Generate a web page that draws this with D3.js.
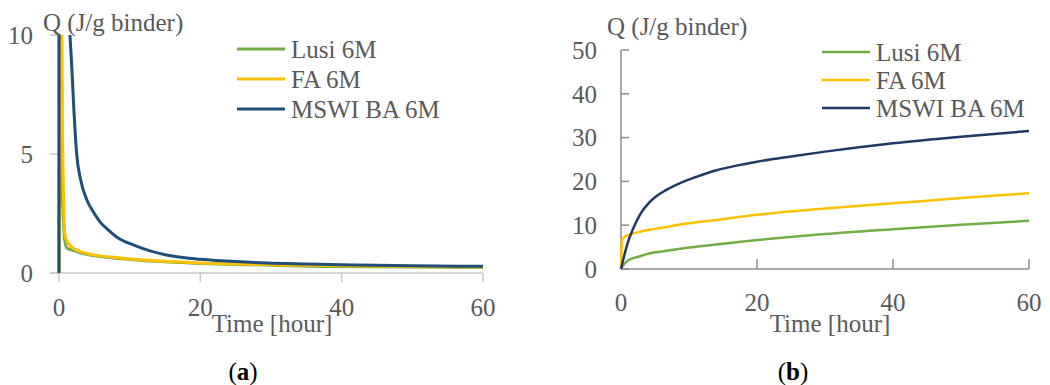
<!DOCTYPE html>
<html>
<head>
<meta charset="utf-8">
<script src="https://cdn.jsdelivr.net/npm/d3@7"></script>
<style>
  body { margin: 0; background: #fff; }
  svg text { font-family: "Liberation Serif", "DejaVu Serif"; fill: #595959; }
</style>
</head>
<body>
<script>

var width = 1050,
    height = 385;

var seriesNames = ["Lusi 6M", "FA 6M", "MSWI BA 6M"];
var colorsA = ["#70ad47", "#ffc000", "#1f4e79"];
var colorsB = ["#70ad47", "#ffc000", "#203864"];

var xTicks = [0, 20, 40, 60];
var yTicksA = [0, 5, 10];
var yTicksB = [0, 10, 20, 30, 40, 50];

// (a) heat flow, [time h, Q]
var lusiA = [[0, 0], [0.02, 14], [0.4, 4], [0.6, 2.3], [0.8, 1.4], [1.1, 1.05], [2, 0.95],
  [3, 0.85], [4, 0.78], [5.8, 0.69], [8, 0.62], [10.5, 0.56], [15, 0.47], [20, 0.4],
  [30, 0.33], [38, 0.27], [50, 0.25], [60, 0.23]];
var faA = [[0, 0], [0.3, 14], [0.5, 6], [0.7, 2.5], [0.85, 1.6], [1.2, 1.3], [2, 1.05],
  [3, 0.9], [4, 0.82], [5.8, 0.72], [8, 0.65], [10.5, 0.58], [15, 0.49], [20, 0.42],
  [30, 0.35], [40, 0.3], [50, 0.27], [60, 0.25]];
var mswiA = [[0, 0], [0.02, 16], [1.2, 12], [1.55, 10], [1.8, 8.7], [2.1, 6.9], [2.5, 5.0],
  [3, 4.0], [3.9, 3.1], [5, 2.5], [5.8, 2.15], [7, 1.8], [8.2, 1.5], [10.5, 1.18],
  [13, 0.92], [15.2, 0.76], [17.5, 0.65], [20, 0.58], [25, 0.48], [29.4, 0.42],
  [35, 0.38], [40, 0.35], [50, 0.3], [60, 0.28]];

// (b) cumulative heat, [time h, Q]
var lusiB = [[0, 0], [0.5, 1.2], [1, 1.9], [1.5, 2.3], [2.5, 2.8], [4, 3.5], [6, 4.0],
  [9, 4.7], [14, 5.6], [20, 6.6], [30, 8.0], [40, 9.1], [50, 10.1], [60, 11.0]];
var faB = [[0, 0], [0.1, 5], [0.2, 6.7], [0.5, 7.3], [1, 7.7], [2, 8.2], [4, 8.9],
  [6, 9.4], [9, 10.2], [14, 11.2], [20, 12.4], [30, 13.8], [40, 15.0], [50, 16.2],
  [60, 17.3]];
var mswiB = [[0, 0], [0.5, 3.2], [1, 6.0], [1.7, 8.9], [2.9, 12.7], [4.1, 15.1], [5, 16.4],
  [6.6, 18.0], [9.1, 19.9], [11, 21.0], [13.9, 22.5], [17, 23.6], [20, 24.5], [25, 25.7],
  [30, 26.8], [35, 27.8], [40, 28.7], [50, 30.2], [60, 31.5]];

var svg = d3.select("body").append("svg")
    .attr("width", width)
    .attr("height", height);

// ---------- chart a ----------
var xA = d3.scaleLinear().domain([0, 60]).range([59, 483]);
var yA = d3.scaleLinear().domain([0, 10]).range([273, 35]);

var gA = svg.append("g");

gA.append("clipPath").attr("id", "clipA")
  .append("rect")
    .attr("x", xA(0) - 3).attr("y", yA(10))
    .attr("width", xA(60) - xA(0) + 6).attr("height", yA(0) - yA(10) + 3);

// axes
gA.append("line")
    .attr("x1", xA(0) - 9).attr("x2", xA(60))
    .attr("y1", yA(0)).attr("y2", yA(0))
    .attr("stroke", "#c8c8c8").attr("stroke-width", 1.5);
gA.append("line")
    .attr("x1", xA(0)).attr("x2", xA(0))
    .attr("y1", yA(0)).attr("y2", yA(10))
    .attr("stroke", "#c8c8c8").attr("stroke-width", 1.5);

gA.selectAll(".xtick").data(xTicks).enter().append("line")
    .attr("x1", function(d) { return xA(d); }).attr("x2", function(d) { return xA(d); })
    .attr("y1", yA(0)).attr("y2", yA(0) + 9)
    .attr("stroke", "#c8c8c8").attr("stroke-width", 1.5);
gA.selectAll(".ytick").data(yTicksA).enter().append("line")
    .attr("x1", xA(0) - 9).attr("x2", xA(0))
    .attr("y1", function(d) { return yA(d); }).attr("y2", function(d) { return yA(d); })
    .attr("stroke", "#c8c8c8").attr("stroke-width", 1.5);

gA.selectAll(".xlab").data(xTicks).enter().append("text")
    .attr("x", function(d) { return xA(d); })
    .attr("y", 307)
    .attr("dy", "0.35em")
    .attr("text-anchor", "middle")
    .style("font-size", "25px")
    .text(function(d) { return d; });
gA.selectAll(".ylab").data(yTicksA).enter().append("text")
    .attr("x", 33)
    .attr("y", function(d) { return yA(d); })
    .attr("dy", "0.35em")
    .attr("text-anchor", "end")
    .style("font-size", "25px")
    .text(function(d) { return d; });

// ---------- chart b ----------
var xB = d3.scaleLinear().domain([0, 60]).range([621, 1029]);
var yB = d3.scaleLinear().domain([0, 50]).range([269, 50]);

var gB = svg.append("g");

gB.append("line")
    .attr("x1", xB(0)).attr("x2", xB(60))
    .attr("y1", yB(0)).attr("y2", yB(0))
    .attr("stroke", "#8c8c8c").attr("stroke-width", 1.5);
gB.append("line")
    .attr("x1", xB(0)).attr("x2", xB(0))
    .attr("y1", yB(0)).attr("y2", yB(50))
    .attr("stroke", "#8c8c8c").attr("stroke-width", 1.5);

gB.selectAll(".xtick").data(xTicks).enter().append("line")
    .attr("x1", function(d) { return xB(d); }).attr("x2", function(d) { return xB(d); })
    .attr("y1", yB(0)).attr("y2", yB(0) - 10)
    .attr("stroke", "#8c8c8c").attr("stroke-width", 1.5);
gB.selectAll(".ytick").data(yTicksB).enter().append("line")
    .attr("x1", xB(0)).attr("x2", xB(0) + 8)
    .attr("y1", function(d) { return yB(d); }).attr("y2", function(d) { return yB(d); })
    .attr("stroke", "#8c8c8c").attr("stroke-width", 1.5);

gB.selectAll(".xlab").data(xTicks).enter().append("text")
    .attr("x", function(d) { return xB(d); })
    .attr("y", 302)
    .attr("dy", "0.35em")
    .attr("text-anchor", "middle")
    .style("font-size", "25px")
    .text(function(d) { return d; });
gB.selectAll(".ylab").data(yTicksB).enter().append("text")
    .attr("x", 597)
    .attr("y", function(d) { return yB(d); })
    .attr("dy", "0.35em")
    .attr("text-anchor", "end")
    .style("font-size", "25px")
    .text(function(d) { return d; });

// ---------- lines ----------
var lineA = d3.line()
    .curve(d3.curveMonotoneX)
    .x(function(d) { return xA(d[0]); })
    .y(function(d) { return yA(d[1]); });
var lineB = d3.line()
    .curve(d3.curveMonotoneX)
    .x(function(d) { return xB(d[0]); })
    .y(function(d) { return yB(d[1]); });

var dataA = [lusiA, faA, mswiA];
var dataB = [lusiB, faB, mswiB];

gA.append("g").attr("clip-path", "url(#clipA)")
  .selectAll("path").data(dataA).enter().append("path")
    .attr("d", lineA)
    .attr("fill", "none")
    .attr("stroke", function(d, i) { return colorsA[i]; })
    .attr("stroke-width", 3)
    .attr("stroke-linejoin", "round");

gB.append("g")
  .selectAll("path").data(dataB).enter().append("path")
    .attr("d", lineB)
    .attr("fill", "none")
    .attr("stroke", function(d, i) { return colorsB[i]; })
    .attr("stroke-width", 2.5)
    .attr("stroke-linejoin", "round");

// ---------- legends ----------
function legend(g, x0, ys, colors, w) {
  seriesNames.forEach(function(name, i) {
    g.append("line")
        .attr("x1", x0).attr("x2", x0 + 48)
        .attr("y1", ys[i]).attr("y2", ys[i])
        .attr("stroke", colors[i]).attr("stroke-width", w);
    g.append("text")
        .attr("x", x0 + 54)
        .attr("y", ys[i])
        .attr("dy", "0.35em")
        .style("font-size", "25px")
        .text(name);
  });
}
legend(gA, 237, [49, 79, 109], colorsA, 3);
legend(gB, 822, [52, 80, 108], colorsB, 2.5);

// ---------- titles ----------
gA.append("text").attr("x", 43).attr("y", 31)
    .style("font-size", "25px").text("Q (J/g binder)");
gB.append("text").attr("x", 607).attr("y", 35)
    .style("font-size", "25px").text("Q (J/g binder)");

gA.append("text").attr("x", 272).attr("y", 323).attr("dy", "0.35em")
    .attr("text-anchor", "middle").style("font-size", "25px").text("Time [hour]");
gB.append("text").attr("x", 830).attr("y", 323).attr("dy", "0.35em")
    .attr("text-anchor", "middle").style("font-size", "25px").text("Time [hour]");

function caption(x, letter) {
  var t = svg.append("text").attr("x", x).attr("y", 371).attr("dy", "0.35em")
      .attr("text-anchor", "middle").style("font-size", "25px").style("fill", "#000");
  t.append("tspan").text("(");
  t.append("tspan").style("font-weight", "bold").text(letter);
  t.append("tspan").text(")");
}
caption(243, "a");
caption(793, "b");

</script>
</body>
</html>
